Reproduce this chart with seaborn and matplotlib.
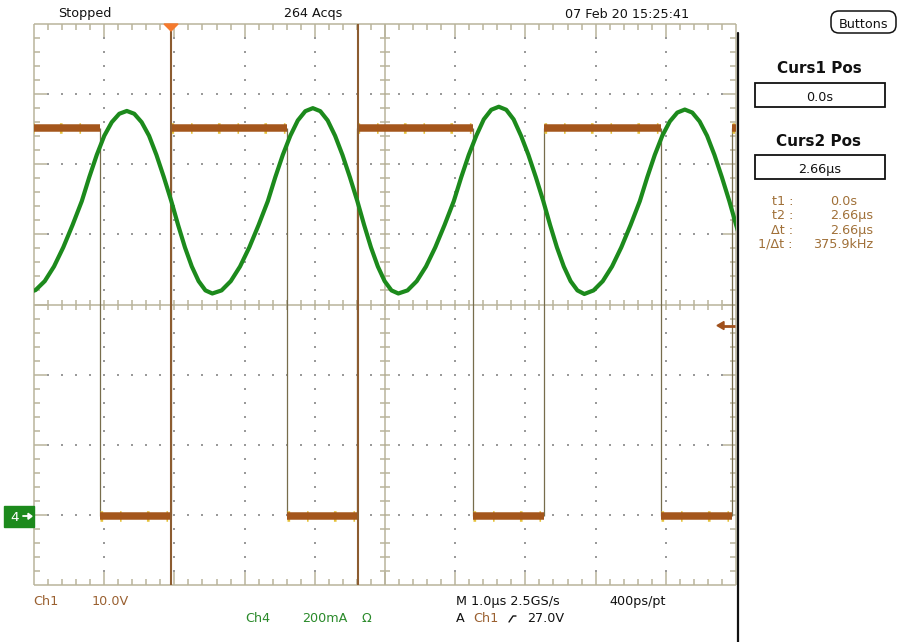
import numpy as np
import pandas as pd
import matplotlib
matplotlib.use("Agg")
import matplotlib.pyplot as plt
import seaborn as sns
from matplotlib.collections import LineCollection
from matplotlib.patches import Rectangle, FancyBboxPatch, Polygon

# ---------------- data read from the screen ----------------
# time in microseconds relative to the trigger point, amplitude in screen divisions
ch4_t = [-2.062, -1.930, -1.799, -1.667, -1.535, -1.403, -1.271, -1.165, -1.058, -0.951, -0.844, -0.737, -0.630,
         -0.524, -0.419, -0.313, -0.208, -0.102, 0.004, 0.101, 0.198, 0.296, 0.393, 0.490, 0.588,
         0.720, 0.851, 0.983, 1.115, 1.247, 1.379, 1.485, 1.592, 1.699, 1.806, 1.913, 2.020,
         2.126, 2.231, 2.337, 2.442, 2.548, 2.654, 2.751, 2.848, 2.946, 3.043, 3.140, 3.238,
         3.369, 3.500, 3.632, 3.764, 3.896, 4.028, 4.134, 4.241, 4.348, 4.455, 4.562, 4.669,
         4.775, 4.880, 4.986, 5.091, 5.197, 5.303, 5.400, 5.497, 5.595, 5.692, 5.789, 5.887,
         6.019, 6.150, 6.282, 6.414, 6.546, 6.678, 6.784, 6.891, 6.998, 7.105, 7.212, 7.319,
         7.425, 7.530, 7.636, 7.741, 7.847, 7.953, 8.050, 8.147]
ch4_v = [0.165, 0.205, 0.333, 0.542, 0.815, 1.133, 1.474, 1.815, 2.133, 2.406, 2.600, 2.720, 2.760,
         2.720, 2.600, 2.406, 2.133, 1.815, 1.474, 1.133, 0.815, 0.542, 0.333, 0.201, 0.157,
         0.201, 0.333, 0.542, 0.815, 1.133, 1.474, 1.815, 2.133, 2.406, 2.625, 2.757, 2.800,
         2.757, 2.625, 2.406, 2.133, 1.815, 1.474, 1.133, 0.815, 0.542, 0.333, 0.201, 0.157,
         0.201, 0.333, 0.542, 0.815, 1.133, 1.474, 1.815, 2.133, 2.406, 2.640, 2.777, 2.820,
         2.777, 2.640, 2.406, 2.133, 1.815, 1.474, 1.133, 0.815, 0.542, 0.333, 0.201, 0.150,
         0.201, 0.333, 0.542, 0.815, 1.133, 1.474, 1.815, 2.133, 2.406, 2.610, 2.737, 2.780,
         2.737, 2.610, 2.406, 2.133, 1.815, 1.474, 1.133, 0.815]
ch1_switch_t = [-1.011, 0.000, 1.652, 2.650, 4.302, 5.313, 6.980, 7.991]
ch1_level = [2.521, -3.020, 2.521, -3.020, 2.521, -3.020, 2.521, -3.020, 2.521]
cursor_t = [0.0, 2.66]
trig_level_div = -0.30
ch4_ground_div = -3.02
x_start = -1.952          # left screen edge (us)
n_xdiv, n_ydiv = 10, 8

header = ["Stopped", "264 Acqs", "07 Feb 20 15:25:41"]
readout_labels = ["t1 :", "t2 :", "\u0394t :", "1/\u0394t :"]
readout_values = ["0.0s", "2.66\u00b5s", "2.66\u00b5s", "375.9kHz"]

# ---------------- figure ----------------
sns.set_theme(style="white")
plt.rcParams['font.family'] = ['DejaVu Sans']
W, H = 901, 642
L, R, T, B = 34, 736, 24, 585
fig = plt.figure(figsize=(W / 100, H / 100), dpi=100)
fig.patch.set_facecolor("white")
ax = fig.add_axes([L / W, 1 - B / H, (R - L) / W, (B - T) / H])
x_end = x_start + n_xdiv
ax.set_xlim(x_start, x_end)
ax.set_ylim(-n_ydiv / 2, n_ydiv / 2)
ax.axis("off")

px_x = n_xdiv / (R - L)
px_y = n_ydiv / (B - T)
GRAT = "#B9B49B"
ymin, ymax = -n_ydiv / 2, n_ydiv / 2

# graticule dots
dots_x, dots_y = [], []
for k in range(1, n_xdiv):
    if k == n_xdiv // 2:
        continue
    for j in range(1, n_ydiv * 5):
        dots_x.append(x_start + k); dots_y.append(ymin + 0.2 * j)
for k in range(1, n_ydiv):
    if k == n_ydiv // 2:
        continue
    for j in range(1, n_xdiv * 5):
        dots_x.append(x_start + 0.2 * j); dots_y.append(ymin + k)
ax.scatter(dots_x, dots_y, s=1.6, marker="s", color="#9A9A9A", linewidths=0, zorder=1)

segs = []
segs += [[(x_start, ymin), (x_end, ymin)], [(x_start, ymax), (x_end, ymax)],
         [(x_start, ymin), (x_start, ymax)], [(x_end, ymin), (x_end, ymax)]]
xc = x_start + n_xdiv / 2
segs += [[(xc, ymin), (xc, ymax)], [(x_start, 0), (x_end, 0)]]
mn, mj, cr = 6, 13, 5
for j in range(1, n_xdiv * 5):
    x = x_start + 0.2 * j
    ln = mj if j % 5 == 0 else mn
    segs.append([(x, ymax), (x, ymax - ln * px_y)])
    segs.append([(x, ymin), (x, ymin + ln * px_y)])
    segs.append([(x, -cr * px_y), (x, cr * px_y)])
for j in range(1, n_ydiv * 5):
    y = ymin + 0.2 * j
    ln = mj if j % 5 == 0 else mn
    segs.append([(x_start, y), (x_start + ln * px_x, y)])
    segs.append([(x_end, y), (x_end - ln * px_x, y)])
    segs.append([(xc - cr * px_x, y), (xc + cr * px_x, y)])
ax.add_collection(LineCollection(segs, colors=GRAT, linewidths=1.1, zorder=1, clip_on=False))

# ---------------- Ch1 square wave ----------------
bounds = [x_start - 0.3] + ch1_switch_t + [x_end + 0.3]
rows = []
for i, lev in enumerate(ch1_level):
    rows.append((i, bounds[i], lev))
    rows.append((i, bounds[i + 1], lev))
df1 = pd.DataFrame(rows, columns=["seg", "t", "v"])
ax.vlines(ch1_switch_t, min(ch1_level), max(ch1_level), color="#776D4C", lw=0.9, zorder=2)
sns.lineplot(data=df1, x="t", y="v", units="seg", estimator=None, color="#E6C23A", lw=7.6,
             linestyle=(0, (0.25, 1.6, 0.15, 2.4)), solid_capstyle="butt", ax=ax, legend=False, zorder=3)
sns.lineplot(data=df1, x="t", y="v", units="seg", estimator=None, color="#A4561C", lw=5.4,
             solid_capstyle="butt", ax=ax, legend=False, zorder=4)

for ct in cursor_t:
    ax.axvline(ct, color="#8C5C30", lw=1.5, zorder=5)

# ---------------- Ch4 sine ----------------
df4 = pd.DataFrame({"t": ch4_t, "v": ch4_v})
sns.lineplot(data=df4, x="t", y="v", sort=False, estimator=None, color="#1C8A1C", lw=3.0,
             ax=ax, legend=False, zorder=6)

# ---------------- overlay in pixel coordinates ----------------
ov = fig.add_axes([0, 0, 1, 1], zorder=5)
ov.set_xlim(0, W); ov.set_ylim(H, 0); ov.axis("off"); ov.patch.set_alpha(0)

def to_px(t, v):
    return L + (t - x_start) / px_x, T + (ymax - v) / px_y

fs = 9.2
ov.text(58, 17, header[0], fontsize=fs, ha="left", va="baseline", color="#111111")
ov.text(313, 17, header[1], fontsize=fs, ha="center", va="baseline", color="#111111")
ov.text(627, 17.5, header[2], fontsize=fs, ha="center", va="baseline", color="#111111")

tx, _ = to_px(cursor_t[0], 0)
ov.add_patch(Polygon([(tx - 7, T), (tx + 7, T), (tx, T + 7)], closed=True, color="#F57A2E", zorder=7))
_, ty = to_px(0, trig_level_div)
ov.plot([722, 735], [ty, ty], color="#A0501C", lw=2.0, solid_capstyle="butt")
ov.add_patch(Polygon([(717, ty), (724, ty - 4), (724, ty + 4)], closed=True, color="#A0501C"))
_, gy = to_px(0, ch4_ground_div)
ov.add_patch(Rectangle((4, gy - 10.5), 29.5, 21, color="#1C8A1C", zorder=7))
ov.text(15, gy + 5, "4", fontsize=fs + 0.5, color="white", ha="center", va="baseline", zorder=8)
ov.plot([23, 29], [gy, gy], color="white", lw=1.3, zorder=8)
ov.add_patch(Polygon([(32, gy), (28, gy - 3), (28, gy + 3)], closed=True, color="white", zorder=8))

ov.plot([738, 738], [33, H], color="#111111", lw=1.6)

ov.add_patch(FancyBboxPatch((831, 11), 65, 22, boxstyle="round,pad=0,rounding_size=8",
                            fc="white", ec="#111111", lw=1.1))
ov.text(863.5, 28.5, "Buttons", fontsize=fs, ha="center", va="baseline", color="#111111")
ov.text(819, 73, "Curs1 Pos", fontsize=11, fontweight="bold", ha="center", va="baseline", color="#111111")
ov.add_patch(Rectangle((755, 83), 130, 24, fc="white", ec="#111111", lw=1.3))
ov.text(820, 101, readout_values[0], fontsize=fs, ha="center", va="baseline", color="#111111")
ov.text(819, 146, "Curs2 Pos", fontsize=11, fontweight="bold", ha="center", va="baseline", color="#111111")
ov.add_patch(Rectangle((755, 155), 130, 24, fc="white", ec="#111111", lw=1.3))
ov.text(820, 173, readout_values[1], fontsize=fs, ha="center", va="baseline", color="#111111")
RC = "#A07038"
val_x = [830, 830, 830, 813]
for i, (lab, val) in enumerate(zip(readout_labels, readout_values)):
    yb = 205 + 14.3 * i
    ov.text(793, yb, lab, fontsize=fs, ha="right", va="baseline", color=RC)
    ov.text(val_x[i], yb, val, fontsize=fs, ha="left", va="baseline", color=RC)

BR, GR = "#9A6030", "#2A8A2A"
ov.text(33, 605, "Ch1", fontsize=fs, ha="left", va="baseline", color=BR)
ov.text(92, 605, "10.0V", fontsize=fs, ha="left", va="baseline", color=BR)
ov.text(245, 622, "Ch4", fontsize=fs, ha="left", va="baseline", color=GR)
ov.text(302, 622, "200mA", fontsize=fs, ha="left", va="baseline", color=GR)
ov.text(362, 622, "\u03a9", fontsize=fs, ha="left", va="baseline", color=GR)
ov.text(456, 605, "M 1.0\u00b5s 2.5GS/s", fontsize=fs, ha="left", va="baseline", color="#111111")
ov.text(609, 605, "400ps/pt", fontsize=fs, ha="left", va="baseline", color="#111111")
ov.text(456, 622.5, "A", fontsize=fs, ha="left", va="baseline", color="#111111")
ov.text(473, 622.5, "Ch1", fontsize=fs, ha="left", va="baseline", color=BR)
ov.plot([509, 513, 516], [622, 616, 616], color="#111111", lw=1.0)
ov.text(527, 622.5, "27.0V", fontsize=fs, ha="left", va="baseline", color="#111111")

fig.savefig("out.png", dpi=100, facecolor="white")
